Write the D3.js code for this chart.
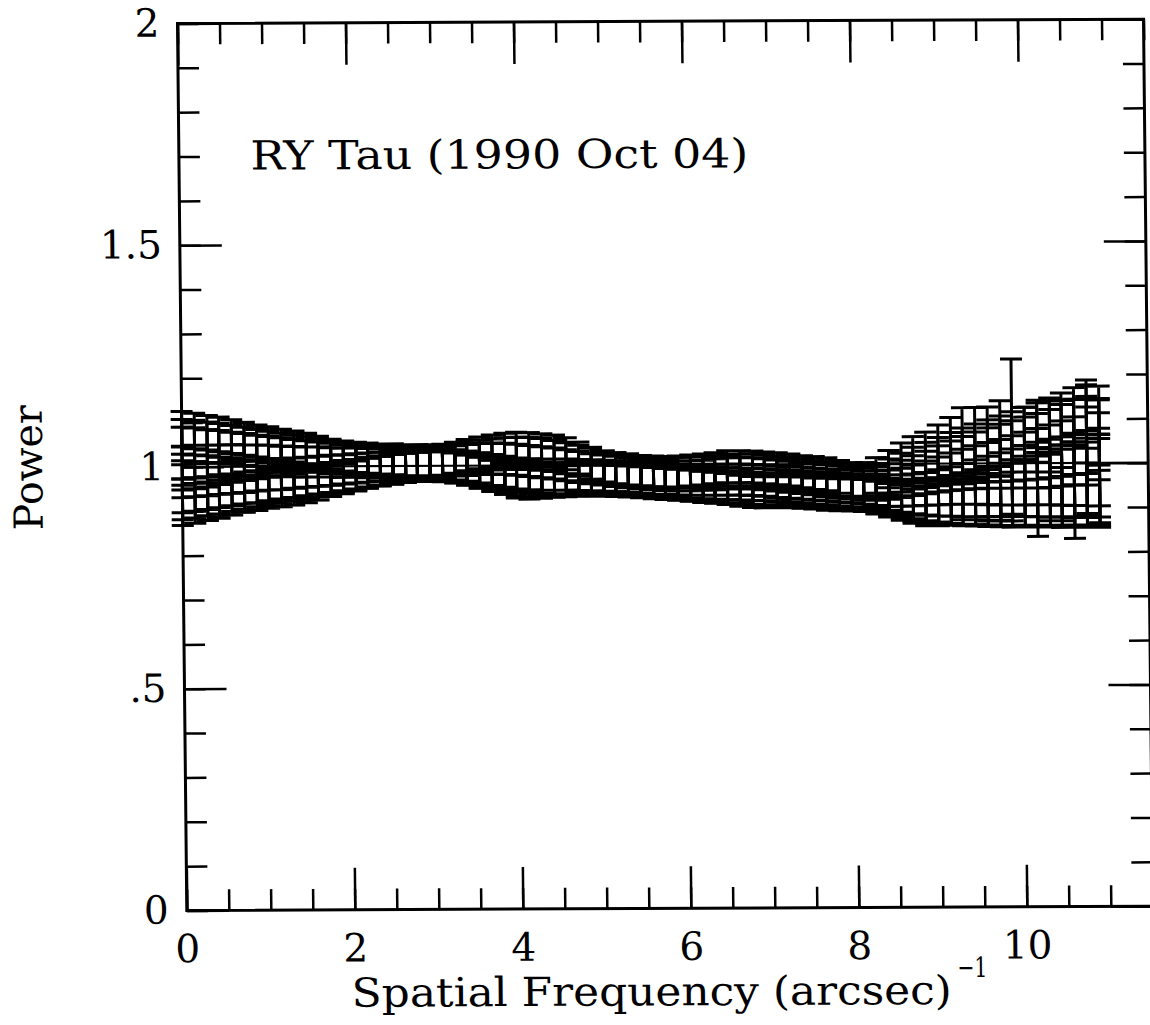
<!DOCTYPE html>
<html>
<head>
<meta charset="utf-8">
<script src="https://cdn.jsdelivr.net/npm/d3@7"></script>
<style>
  html, body { margin: 0; padding: 0; background: #fff; }
  svg { display: block; }
  text { font-family: "DejaVu Serif", "Liberation Serif", serif; fill: #000; }
</style>
</head>
<body>
<svg id="chart" width="1150" height="1025"></svg>
<script>
// Spatial frequency grid, (arcsec)^-1
const freq = [
  0.00, 0.15, 0.30, 0.44, 0.59, 0.74, 0.89, 1.03, 1.18, 1.33,
  1.48, 1.62, 1.77, 1.92, 2.07, 2.21, 2.36, 2.51, 2.66, 2.80,
  2.95, 3.10, 3.25, 3.39, 3.54, 3.69, 3.84, 3.98, 4.13, 4.28,
  4.43, 4.57, 4.72, 4.87, 5.02, 5.16, 5.31, 5.46, 5.61, 5.75,
  5.90, 6.05, 6.20, 6.34, 6.49, 6.64, 6.79, 6.93, 7.08, 7.23,
  7.38, 7.52, 7.67, 7.82, 7.97, 8.11, 8.26, 8.41, 8.56, 8.70,
  8.85, 9.00, 9.15, 9.29, 9.44, 9.59, 9.74, 9.88, 10.03, 10.18,
  10.33, 10.47, 10.62, 10.77, 10.92
];

// Normalised power for eight position-angle cuts
const powerA = [
  1.085, 1.081, 1.077, 1.073, 1.068, 1.063, 1.058, 1.054, 1.049, 1.045,
  1.040, 1.034, 1.027, 1.023, 1.020, 1.018, 1.016, 1.015, 1.013, 1.013,
  1.013, 1.014, 1.018, 1.024, 1.029, 1.033, 1.037, 1.039, 1.038, 1.035,
  1.032, 1.026, 1.016, 1.004, 0.995, 0.990, 0.988, 0.986, 0.985, 0.984,
  0.985, 0.987, 0.989, 0.992, 0.995, 0.995, 0.994, 0.992, 0.990, 0.987,
  0.983, 0.980, 0.977, 0.971, 0.965, 0.965, 0.974, 0.988, 1.002, 1.011,
  1.019, 1.027, 1.034, 1.040, 1.046, 1.052, 1.056, 1.060, 1.066, 1.072,
  1.080, 1.091, 1.104, 1.110, 1.105
];
const errA = [
  .040, .040, .039, .039, .038, .037, .036, .036, .035, .035,
  .035, .034, .034, .034, .034, .034, .034, .035, .035, .035,
  .035, .035, .035, .035, .036, .036, .036, .036, .036, .036,
  .036, .036, .036, .036, .035, .035, .035, .035, .035, .035,
  .035, .035, .035, .035, .036, .036, .036, .036, .036, .036,
  .036, .037, .037, .037, .038, .038, .040, .042, .045, .050,
  .052, .060, .070, .086, .080, .075, .085, .175, .060, .070,
  .060, .050, .040, .077, .040
];

const powerG = [
  1.068, 1.066, 1.063, 1.060, 1.056, 1.052, 1.048, 1.044, 1.040, 1.036,
  1.032, 1.028, 1.024, 1.021, 1.018, 1.016, 1.014, 1.012, 1.011, 1.010,
  1.010, 1.012, 1.015, 1.019, 1.022, 1.025, 1.027, 1.028, 1.027, 1.025,
  1.021, 1.016, 1.010, 1.003, 0.997, 0.993, 0.990, 0.987, 0.985, 0.983,
  0.982, 0.982, 0.983, 0.985, 0.987, 0.988, 0.987, 0.985, 0.982, 0.979,
  0.976, 0.972, 0.968, 0.964, 0.960, 0.958, 0.962, 0.970, 0.980, 0.990,
  0.998, 1.005, 1.012, 1.018, 1.023, 1.028, 1.033, 1.038, 1.044, 1.050,
  1.057, 1.064, 1.072, 1.076, 1.078
];
const errG = [
  .039, .039, .038, .038, .037, .037, .036, .036, .035, .035,
  .035, .034, .034, .034, .034, .033, .033, .033, .034, .034,
  .034, .034, .035, .035, .035, .035, .036, .036, .036, .036,
  .035, .035, .035, .035, .035, .035, .035, .034, .034, .034,
  .034, .035, .035, .035, .035, .036, .036, .036, .036, .036,
  .036, .036, .037, .037, .037, .038, .039, .041, .044, .047,
  .050, .054, .058, .062, .066, .070, .074, .078, .082, .086,
  .090, .094, .098, .100, .095
];

const powerB = [
  1.052, 1.050, 1.047, 1.045, 1.042, 1.039, 1.036, 1.033, 1.030, 1.027,
  1.024, 1.021, 1.018, 1.015, 1.013, 1.011, 1.010, 1.009, 1.008, 1.008,
  1.008, 1.009, 1.011, 1.013, 1.015, 1.016, 1.015, 1.013, 1.010, 1.007,
  1.004, 1.000, 0.996, 0.992, 0.989, 0.986, 0.983, 0.980, 0.978, 0.976,
  0.975, 0.975, 0.976, 0.978, 0.980, 0.981, 0.980, 0.978, 0.975, 0.972,
  0.969, 0.966, 0.963, 0.960, 0.957, 0.955, 0.956, 0.960, 0.966, 0.973,
  0.980, 0.988, 0.995, 1.001, 1.007, 1.012, 1.016, 1.020, 1.024, 1.028,
  1.033, 1.040, 1.047, 1.050, 1.052
];
const errB = [
  .038, .038, .037, .037, .036, .036, .035, .035, .035, .034,
  .034, .034, .034, .033, .033, .033, .033, .033, .034, .034,
  .034, .034, .034, .035, .035, .035, .035, .035, .035, .035,
  .035, .035, .035, .034, .034, .034, .034, .034, .034, .034,
  .034, .034, .034, .035, .035, .035, .035, .035, .035, .035,
  .035, .035, .036, .036, .036, .037, .038, .040, .042, .045,
  .048, .052, .056, .060, .064, .068, .072, .076, .080, .084,
  .088, .092, .096, .100, .090
];

const powerC = [
  1.010, 1.012, 1.013, 1.013, 1.014, 1.014, 1.014, 1.013, 1.012, 1.011,
  1.010, 1.010, 1.009, 1.008, 1.008, 1.007, 1.006, 1.006, 1.005, 1.005,
  1.005, 1.004, 1.002, 0.999, 0.995, 0.990, 0.986, 0.982, 0.980, 0.979,
  0.979, 0.979, 0.978, 0.977, 0.976, 0.975, 0.973, 0.971, 0.969, 0.968,
  0.967, 0.966, 0.966, 0.966, 0.966, 0.966, 0.965, 0.963, 0.961, 0.959,
  0.957, 0.955, 0.953, 0.951, 0.949, 0.947, 0.945, 0.945, 0.947, 0.951,
  0.956, 0.961, 0.966, 0.970, 0.974, 0.977, 0.980, 0.984, 0.988, 0.992,
  0.996, 1.000, 1.004, 1.006, 1.008
];
const errC = [
  .037, .037, .036, .036, .036, .035, .035, .035, .034, .034,
  .034, .034, .033, .033, .033, .033, .033, .033, .033, .033,
  .033, .034, .034, .034, .034, .035, .035, .035, .035, .035,
  .035, .035, .035, .035, .035, .035, .035, .035, .035, .035,
  .035, .035, .035, .035, .035, .035, .035, .035, .036, .036,
  .036, .036, .036, .037, .037, .038, .039, .041, .043, .046,
  .050, .054, .058, .062, .066, .070, .074, .078, .082, .086,
  .090, .095, .100, .120, .105
];

const powerD = [
  0.968, 0.970, 0.972, 0.974, 0.976, 0.978, 0.980, 0.982, 0.983, 0.985,
  0.987, 0.989, 0.991, 0.993, 0.995, 0.997, 0.999, 1.001, 1.002, 1.003,
  1.003, 1.002, 1.000, 0.997, 0.993, 0.988, 0.983, 0.978, 0.974, 0.972,
  0.971, 0.971, 0.972, 0.972, 0.972, 0.971, 0.970, 0.968, 0.966, 0.964,
  0.962, 0.960, 0.959, 0.958, 0.957, 0.956, 0.955, 0.954, 0.952, 0.950,
  0.948, 0.946, 0.944, 0.942, 0.940, 0.939, 0.937, 0.935, 0.933, 0.932,
  0.932, 0.934, 0.937, 0.940, 0.944, 0.948, 0.952, 0.956, 0.960, 0.963,
  0.966, 0.969, 0.972, 0.975, 0.978
];
const errD = [
  .037, .037, .037, .036, .036, .036, .035, .035, .035, .034,
  .034, .034, .034, .033, .033, .033, .033, .033, .033, .033,
  .034, .034, .034, .034, .035, .035, .035, .035, .035, .035,
  .035, .035, .035, .035, .035, .035, .035, .035, .035, .035,
  .035, .035, .036, .036, .036, .036, .036, .036, .036, .036,
  .036, .037, .037, .037, .038, .038, .039, .040, .042, .045,
  .048, .052, .056, .060, .064, .068, .072, .076, .080, .084,
  .088, .090, .095, .098, .100
];

const powerE = [
  0.935, 0.938, 0.941, 0.945, 0.948, 0.952, 0.955, 0.958, 0.962, 0.965,
  0.968, 0.972, 0.975, 0.979, 0.982, 0.986, 0.989, 0.993, 0.996, 0.998,
  0.999, 0.999, 0.997, 0.994, 0.990, 0.985, 0.980, 0.976, 0.971, 0.968,
  0.967, 0.967, 0.968, 0.969, 0.969, 0.968, 0.967, 0.965, 0.963, 0.961,
  0.958, 0.956, 0.954, 0.952, 0.950, 0.948, 0.946, 0.945, 0.944, 0.943,
  0.941, 0.940, 0.938, 0.936, 0.935, 0.934, 0.931, 0.927, 0.923, 0.920,
  0.918, 0.918, 0.919, 0.921, 0.924, 0.927, 0.930, 0.934, 0.938, 0.942,
  0.946, 0.950, 0.954, 0.958, 0.962
];
const errE = [
  .038, .038, .037, .037, .036, .036, .036, .035, .035, .035,
  .034, .034, .034, .034, .033, .033, .033, .033, .033, .033,
  .033, .033, .034, .034, .034, .035, .035, .035, .035, .035,
  .035, .035, .035, .035, .035, .035, .035, .035, .035, .035,
  .035, .035, .035, .036, .036, .036, .036, .036, .036, .036,
  .036, .036, .037, .037, .037, .038, .039, .040, .042, .044,
  .047, .050, .054, .058, .062, .066, .070, .074, .078, .082,
  .086, .090, .094, .098, .102
];

const powerH = [
  0.920, 0.924, 0.928, 0.932, 0.936, 0.941, 0.945, 0.949, 0.953, 0.957,
  0.961, 0.965, 0.970, 0.975, 0.980, 0.985, 0.989, 0.993, 0.996, 0.998,
  0.999, 0.998, 0.995, 0.990, 0.984, 0.977, 0.971, 0.966, 0.963, 0.963,
  0.964, 0.965, 0.966, 0.967, 0.967, 0.966, 0.965, 0.963, 0.961, 0.959,
  0.956, 0.954, 0.951, 0.949, 0.947, 0.945, 0.943, 0.941, 0.940, 0.939,
  0.938, 0.937, 0.935, 0.933, 0.932, 0.931, 0.928, 0.923, 0.918, 0.914,
  0.911, 0.911, 0.913, 0.916, 0.919, 0.922, 0.925, 0.928, 0.932, 0.936,
  0.940, 0.943, 0.947, 0.951, 0.955
];
const errH = [
  .039, .039, .038, .038, .037, .037, .036, .036, .035, .035,
  .035, .034, .034, .034, .034, .034, .033, .033, .033, .033,
  .034, .034, .034, .034, .035, .035, .035, .035, .035, .035,
  .035, .035, .035, .035, .035, .035, .035, .035, .035, .035,
  .035, .035, .035, .035, .036, .036, .036, .036, .036, .036,
  .036, .036, .036, .037, .037, .038, .039, .040, .042, .044,
  .046, .049, .052, .056, .060, .064, .068, .072, .076, .080,
  .084, .088, .092, .096, .100
];

const powerF = [
  0.908, 0.912, 0.917, 0.922, 0.928, 0.933, 0.937, 0.941, 0.944, 0.948,
  0.953, 0.959, 0.966, 0.972, 0.978, 0.984, 0.989, 0.993, 0.997, 0.999,
  1.000, 0.999, 0.996, 0.991, 0.985, 0.978, 0.970, 0.962, 0.959, 0.961,
  0.963, 0.964, 0.965, 0.965, 0.965, 0.964, 0.963, 0.961, 0.959, 0.957,
  0.955, 0.953, 0.950, 0.948, 0.945, 0.941, 0.938, 0.937, 0.937, 0.937,
  0.936, 0.934, 0.932, 0.931, 0.930, 0.929, 0.924, 0.918, 0.913, 0.908,
  0.903, 0.905, 0.910, 0.915, 0.918, 0.920, 0.922, 0.925, 0.930, 0.935,
  0.925, 0.930, 0.935, 0.940, 0.930
];
const errF = [
  .040, .039, .038, .038, .037, .036, .036, .035, .035, .035,
  .035, .035, .034, .034, .034, .034, .034, .034, .034, .034,
  .034, .034, .034, .034, .035, .035, .035, .035, .035, .035,
  .035, .035, .035, .035, .035, .035, .035, .035, .035, .035,
  .035, .035, .035, .035, .035, .035, .035, .035, .035, .035,
  .035, .035, .036, .036, .036, .036, .037, .038, .040, .042,
  .043, .045, .046, .042, .045, .050, .050, .055, .050, .100,
  .055, .060, .105, .060, .065
];

const series = [
  { power: powerA, err: errA },
  { power: powerG, err: errG },
  { power: powerB, err: errB },
  { power: powerC, err: errC },
  { power: powerD, err: errD },
  { power: powerE, err: errE },
  { power: powerH, err: errH },
  { power: powerF, err: errF }
];

const yMajorTicks = [0, 0.5, 1, 1.5, 2];
const yTickLabels = ["0", ".5", "1", "1.5", "2"];
const xMajorTicks = [0, 2, 4, 6, 8, 10];
const xTickLabels = ["0", "2", "4", "6", "8", "10"];
const yMinorTicks = d3.range(0, 2.0001, 0.1).map(v => +v.toFixed(1));
const xMinorTicks = d3.range(0, 11.5001, 0.5).map(v => +v.toFixed(1));
const referenceLevel = 1;
const titleText = "RY Tau (1990 Oct 04)";

// ---- layout ----
const plotW = 966, plotH = 887;
const svg = d3.select("#chart");
svg.append("rect").attr("width", 1150).attr("height", 1025).attr("fill", "#fff");

// the frame sits very slightly sheared on the page
const g = svg.append("g")
  .attr("transform", "matrix(1,-0.0045,0.0105,1,177.5,23.5)");

const x = d3.scaleLinear().domain([0, 11.5]).range([0, plotW]);
const y = d3.scaleLinear().domain([0, 2]).range([plotH, 0]);

const MAJOR = 42, MINOR = 21;
const tickFont = 39;

function styleAxis(sel) {
  sel.select(".domain").remove();
  sel.selectAll("line").attr("stroke", "#000").attr("stroke-width", 2.5);
  sel.selectAll("text").attr("font-size", tickFont).attr("fill", "#000")
    .attr("font-family", "DejaVu Serif, Liberation Serif, serif");
}

// minor ticks, all four sides (pointing inward)
g.append("g").call(d3.axisLeft(y).tickValues(yMinorTicks).tickSize(-MINOR).tickFormat(""))
  .call(styleAxis);
g.append("g").attr("transform", `translate(${plotW},0)`)
  .call(d3.axisRight(y).tickValues(yMinorTicks).tickSize(-MINOR).tickFormat(""))
  .call(styleAxis);
g.append("g").attr("transform", `translate(0,${plotH})`)
  .call(d3.axisBottom(x).tickValues(xMinorTicks).tickSize(-MINOR).tickFormat(""))
  .call(styleAxis);
g.append("g")
  .call(d3.axisTop(x).tickValues(xMinorTicks).tickSize(-MINOR).tickFormat(""))
  .call(styleAxis);

// major ticks with labels
g.append("g")
  .call(d3.axisLeft(y).tickValues(yMajorTicks).tickSize(-MAJOR).tickPadding(18)
    .tickFormat((d, i) => yTickLabels[i]))
  .call(styleAxis);
g.append("g").attr("transform", `translate(${plotW},0)`)
  .call(d3.axisRight(y).tickValues(yMajorTicks).tickSize(-MAJOR).tickFormat(""))
  .call(styleAxis);
g.append("g").attr("transform", `translate(0,${plotH})`)
  .call(d3.axisBottom(x).tickValues(xMajorTicks).tickSize(-MAJOR).tickPadding(24)
    .tickFormat((d, i) => xTickLabels[i]))
  .call(styleAxis);
g.append("g")
  .call(d3.axisTop(x).tickValues(xMajorTicks).tickSize(-MAJOR).tickFormat(""))
  .call(styleAxis);

// frame
g.append("rect").attr("x", 0).attr("y", 0).attr("width", plotW).attr("height", plotH)
  .attr("fill", "none").attr("stroke", "#000").attr("stroke-width", 3);

// unit-power reference line
g.append("line")
  .attr("x1", x(0)).attr("x2", x(11.5))
  .attr("y1", y(referenceLevel)).attr("y2", y(referenceLevel))
  .attr("stroke", "#000").attr("stroke-width", 2.2);

// error bars
const capHalf = 11;
const bars = g.append("g").attr("fill", "none").attr("stroke", "#000")
  .attr("stroke-width", 3).attr("stroke-linecap", "butt");
series.forEach(s => {
  const path = d3.path();
  freq.forEach((f, i) => {
    const cx = x(f);
    const lo = y(s.power[i] - s.err[i]);
    const hi = y(s.power[i] + s.err[i]);
    path.moveTo(cx, lo); path.lineTo(cx, hi);
    path.moveTo(cx - capHalf, hi); path.lineTo(cx + capHalf, hi);
    path.moveTo(cx - capHalf, lo); path.lineTo(cx + capHalf, lo);
  });
  bars.append("path").attr("d", path.toString());
});

// labels
g.append("text")
  .attr("x", x(0.85)).attr("y", y(1.67))
  .attr("font-size", 40)
  .attr("textLength", 498).attr("lengthAdjust", "spacingAndGlyphs")
  .text(titleText);

g.append("text")
  .attr("x", 164).attr("y", plotH + 97)
  .attr("font-size", 40)
  .attr("textLength", 600).attr("lengthAdjust", "spacingAndGlyphs")
  .text("Spatial Frequency (arcsec)");
g.append("text")
  .attr("x", 770).attr("y", plotH + 70)
  .attr("font-size", 28)
  .attr("textLength", 30).attr("lengthAdjust", "spacingAndGlyphs")
  .text("\u22121");

g.append("text")
  .attr("transform", `translate(-140,${y(1.0)}) rotate(-90)`)
  .attr("text-anchor", "middle")
  .attr("font-size", 40)
  .attr("textLength", 125).attr("lengthAdjust", "spacingAndGlyphs")
  .text("Power");
</script>
</body>
</html>
